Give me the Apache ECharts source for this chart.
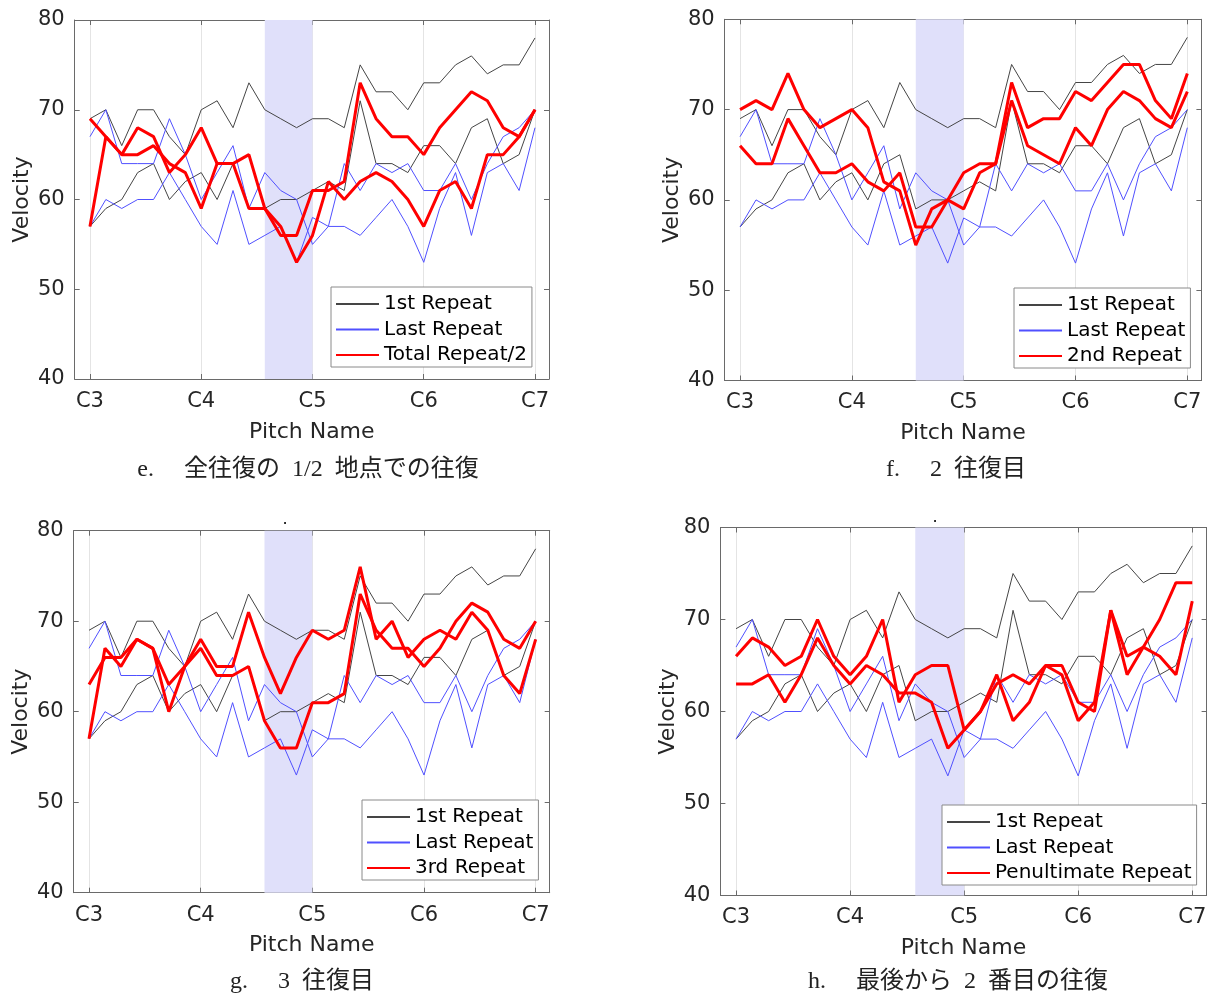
<!DOCTYPE html>
<html><head><meta charset="utf-8">
<script src="https://cdn.jsdelivr.net/npm/echarts@6/dist/echarts.min.js"></script>
<style>html,body{margin:0;padding:0;background:#fff}#c{width:1210px;height:994px}</style>
</head><body><div id="c"></div>
<script>
// ---- data ----
const tickValues = [0, 7, 14, 21, 28];
const tickLabels = ['C3', 'C4', 'C5', 'C6', 'C7'];
const shadeRange = [11, 14];
const yTicks = [40, 50, 60, 70, 80];

const firstRepeatA = [69,70,66,70,70,67,65,70,71,68,73,70,69,68,69,69,68,75,72,72,70,73,73,75,76,74,75,75,78];
const firstRepeatB = [57,59,60,63,64,60,62,63,60,64,65,59,60,60,61,62,61,71,64,64,63,66,66,64,68,69,64,65,70];
const lastRepeatA  = [67,70,64,64,64,69,65,60,63,66,59,63,61,60,55,57,64,61,64,63,64,61,61,64,60,64,67,68,70];
const lastRepeatB  = [57,60,59,60,60,63,60,57,55,61,55,56,57,53,58,57,57,56,58,60,57,53,59,63,56,63,64,61,68];

const halfRepeatA = [69,67,65,65,66,64,63,59,64,64,65,59,57,53,56,62,60,62,63,62,60,57,61,62,59,65,65,67,70];
const halfRepeatB = [57,67,65,68,67,63,65,68,64,64,59,59,56,56,61,61,62,73,69,67,67,65,68,70,72,71,68,67,70];
const secondRepeatA = [70,71,70,74,70,68,69,70,68,62,61,55,59,60,59,63,64,71,66,65,64,68,66,70,72,71,69,68,72];
const secondRepeatB = [66,64,64,69,66,63,63,64,62,61,63,57,57,60,63,64,64,73,68,69,69,72,71,73,75,75,71,69,74];
const thirdRepeatA = [63,66,66,68,67,63,65,68,65,65,71,66,62,66,69,68,69,76,68,70,66,68,69,68,71,69,64,62,68];
const thirdRepeatB = [57,67,65,68,67,60,65,67,64,64,65,59,56,56,61,61,62,73,69,67,67,65,67,70,72,71,68,67,70];
const penultRepeatA = [66,68,67,65,66,70,66,64,66,70,61,64,65,65,58,60,64,59,61,65,64,59,61,71,64,67,70,74,74];
const penultRepeatB = [63,63,64,61,64,68,65,63,65,64,62,62,61,56,58,60,63,64,63,65,65,61,60,71,66,67,66,64,72];

const firstName = '1st Repeat';
const lastName = 'Last Repeat';
const redNames = ['Total Repeat/2', '2nd Repeat', '3rd Repeat', 'Penultimate Repeat'];
const redData = [[halfRepeatA, halfRepeatB], [secondRepeatA, secondRepeatB], [thirdRepeatA, thirdRepeatB], [penultRepeatA, penultRepeatB]];
const captions = ['e.\u3000 全往復の  1/2  地点での往復', 'f.\u3000 2  往復目', 'g.\u3000 3  往復目', 'h.\u3000 最後から  2  番目の往復'];

// ---- layout ----
const panels = [
  {left: 74.7, top: 20, width: 474.3, height: 359, lg: {left: 331, top: 287}, cap: [308, 470]},
  {left: 724.7, top: 19.3, width: 476.7, height: 361.2, lg: {left: 1014, top: 288}, cap: [956, 470]},
  {left: 73.7, top: 530.7, width: 476, height: 362, lg: {left: 362, top: 800}, cap: [302, 982]},
  {left: 720.4, top: 527.5, width: 486.2, height: 368, lg: {left: 942, top: 805}, cap: [958, 982]}
];

const XMIN = -0.96, XMAX = 28.88;
const frameColor = '#6a6a6a';
const labelColor = '#262626';
const sans = 'DejaVu Sans';
const toPts = arr => arr.map((v, k) => [k, v]);

const grid = [], xAxis = [], yAxis = [], series = [], legend = [], graphic = [];

panels.forEach((p, i) => {
  grid.push({left: p.left, top: p.top, width: p.width, height: p.height, outerBoundsMode: 'none'});
  xAxis.push({
    gridIndex: i, type: 'value', min: XMIN, max: XMAX, position: 'bottom',
    axisLine: {show: true, onZero: false, lineStyle: {color: frameColor, width: 1}},
    axisTick: {show: true, inside: true, length: 5, customValues: tickValues, lineStyle: {color: frameColor}},
    axisLabel: {show: true, customValues: tickValues, formatter: v => tickLabels[tickValues.indexOf(v)],
      fontSize: 21, color: labelColor, margin: 12, fontFamily: sans},
    splitLine: {show: true, lineStyle: {color: '#e4e4e4', width: 1}},
    name: 'Pitch Name', nameLocation: 'middle', nameGap: 42,
    nameTextStyle: {fontSize: 22, color: labelColor, fontFamily: sans}
  });
  xAxis.push({
    gridIndex: i, type: 'value', min: XMIN, max: XMAX, position: 'top',
    axisLine: {show: true, onZero: false, lineStyle: {color: frameColor, width: 1}},
    axisTick: {show: true, inside: true, length: 5, customValues: tickValues, lineStyle: {color: frameColor}},
    axisLabel: {show: false}, splitLine: {show: false}
  });
  yAxis.push({
    gridIndex: i, type: 'value', min: yTicks[0], max: yTicks[yTicks.length - 1], interval: 10, position: 'left',
    axisLine: {show: true, onZero: false, lineStyle: {color: frameColor, width: 1}},
    axisTick: {show: true, inside: true, length: 5, lineStyle: {color: frameColor}},
    axisLabel: {show: true, fontSize: 21, color: labelColor, margin: 10, fontFamily: sans},
    splitLine: {show: false},
    name: 'Velocity', nameLocation: 'middle', nameGap: 41, nameRotate: 90,
    nameTextStyle: {fontSize: 22, color: labelColor, fontFamily: sans}
  });
  yAxis.push({
    gridIndex: i, type: 'value', min: yTicks[0], max: yTicks[yTicks.length - 1], interval: 10, position: 'right',
    axisLine: {show: true, onZero: false, lineStyle: {color: frameColor, width: 1}},
    axisTick: {show: true, inside: true, length: 5, lineStyle: {color: frameColor}},
    axisLabel: {show: false}, splitLine: {show: false}
  });
  const xi = 2 * i, yi = 2 * i;
  series.push({
    type: 'line', xAxisIndex: xi, yAxisIndex: yi, data: [[shadeRange[0], 40]], symbol: 'none',
    lineStyle: {width: 0}, silent: true, z: 1, legendHoverLink: false,
    markArea: {silent: true, itemStyle: {color: '#e0e0fa'},
      data: [[{xAxis: shadeRange[0]}, {xAxis: shadeRange[1]}]]}
  });
  const mk = (name, arr, color, w, z) => ({
    type: 'line', name, xAxisIndex: xi, yAxisIndex: yi, data: toPts(arr), symbol: 'none',
    lineStyle: {color, width: w}, itemStyle: {color}, z, silent: true
  });
  series.push(mk(firstName, firstRepeatA, '#454545', 1, 2));
  series.push(mk(firstName, firstRepeatB, '#454545', 1, 2));
  series.push(mk(lastName, lastRepeatA, '#5050ff', 1, 3));
  series.push(mk(lastName, lastRepeatB, '#5050ff', 1, 3));
  series.push(mk(redNames[i], redData[i][0], '#ff0000', 3, 4));
  series.push(mk(redNames[i], redData[i][1], '#ff0000', 3, 4));

  legend.push({
    data: [firstName, lastName, redNames[i]], orient: 'vertical', left: p.lg.left, top: p.lg.top,
    padding: [6, 5, 1, 4], itemWidth: 43, itemHeight: 14, itemGap: 3.5,
    backgroundColor: '#fff', borderColor: '#8a8a8a', borderWidth: 1, borderRadius: 0,
    itemStyle: {opacity: 0}, selectedMode: false,
    textStyle: {fontSize: 20, lineHeight: 22, color: '#000', fontFamily: sans}
  });
  graphic.push({
    type: 'text', x: p.cap[0], y: p.cap[1], silent: true,
    style: {text: captions[i], font: "24px 'Liberation Serif', 'Noto Sans CJK JP', serif", fill: '#222',
      textAlign: 'center', textVerticalAlign: 'middle', align: 'center', verticalAlign: 'middle'}
  });
});
// small stray marks seen above the lower panels
graphic.push({type: 'text', x: 285, y: 520, silent: true, style: {text: '.', font: "16px 'DejaVu Sans'", fill: '#000', align: 'center', verticalAlign: 'middle'}});
graphic.push({type: 'text', x: 935, y: 518, silent: true, style: {text: '.', font: "16px 'DejaVu Sans'", fill: '#000', align: 'center', verticalAlign: 'middle'}});

const chart = echarts.init(document.getElementById('c'), null, {renderer: 'canvas'});
chart.setOption({animation: false, backgroundColor: '#fff', grid, xAxis, yAxis, series, legend, graphic});
</script>
</body></html>
